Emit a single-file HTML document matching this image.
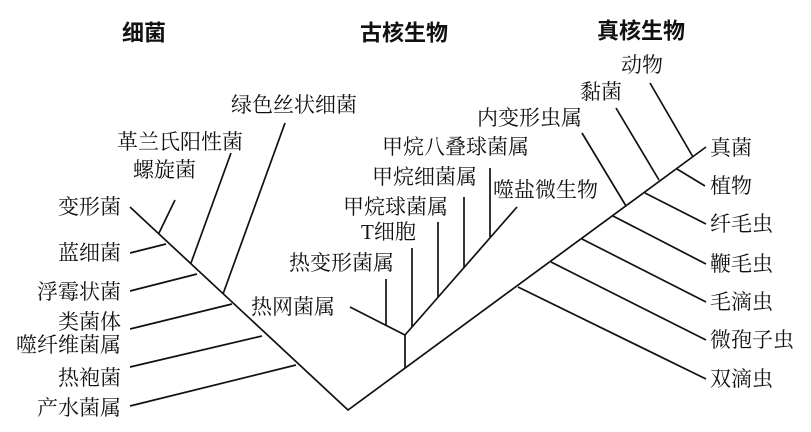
<!DOCTYPE html>
<html><head><meta charset="utf-8"><style>
html,body{margin:0;padding:0;background:#fff;}
svg{display:block;}
text{font-family:"Liberation Serif","Noto Serif CJK SC","Noto Sans CJK SC",serif;font-size:21px;fill:#111;dominant-baseline:central;}
.t{font-family:"Liberation Sans","Noto Sans CJK SC",sans-serif;font-size:22px;font-weight:bold;}
.e{text-anchor:end;}
</style></head><body>
<svg width="811" height="432" viewBox="0 0 811 432" xmlns="http://www.w3.org/2000/svg">
<g stroke="#111" stroke-width="1.7" fill="none">
<polyline points="130,207 348,410 706,147"/>
<line x1="175" y1="200" x2="159" y2="233"/>
<line x1="130" y1="253" x2="166" y2="244"/>
<line x1="231" y1="153" x2="191" y2="263"/>
<line x1="130" y1="291" x2="197" y2="274"/>
<line x1="285" y1="123" x2="223" y2="294"/>
<line x1="130" y1="329" x2="232" y2="304"/>
<line x1="130" y1="367" x2="262" y2="336"/>
<line x1="130" y1="406" x2="296" y2="365"/>
<line x1="405" y1="368" x2="405" y2="335"/>
<line x1="405" y1="335" x2="517" y2="207"/>
<line x1="405" y1="335" x2="350" y2="307"/>
<line x1="386" y1="279" x2="386" y2="325"/>
<line x1="412" y1="248" x2="412" y2="327"/>
<line x1="438" y1="222" x2="438" y2="297"/>
<line x1="464" y1="197" x2="464" y2="267"/>
<line x1="490" y1="168" x2="490" y2="237"/>
<line x1="650" y1="83" x2="693" y2="157"/>
<line x1="705" y1="186" x2="677" y2="169"/>
<line x1="616" y1="108" x2="659" y2="180"/>
<line x1="706" y1="224" x2="645" y2="193"/>
<line x1="582" y1="133" x2="626" y2="206"/>
<line x1="706" y1="264" x2="613" y2="216"/>
<line x1="706" y1="302" x2="582" y2="239"/>
<line x1="706" y1="340" x2="551" y2="262"/>
<line x1="706" y1="379" x2="518" y2="287"/>
</g>
<text class="t" x="122" y="33">细菌</text>
<text class="t" x="360" y="33">古核生物</text>
<text class="t" x="597" y="31">真核生物</text>
<text class="e" x="121" y="207">变形菌</text>
<text class="e" x="121" y="253">蓝细菌</text>
<text class="e" x="121" y="292">浮霉状菌</text>
<text class="e" x="121" y="322">类菌体</text>
<text class="e" x="121" y="345">噬纤维菌属</text>
<text class="e" x="121" y="378">热袍菌</text>
<text class="e" x="121" y="408">产水菌属</text>
<text x="133" y="170">螺旋菌</text>
<text x="117" y="142">革兰氏阳性菌</text>
<text x="231" y="105">绿色丝状细菌</text>
<text x="251" y="307">热网菌属</text>
<text x="289" y="263">热变形菌属</text>
<text x="361" y="232">T细胞</text>
<text x="343" y="207">甲烷球菌属</text>
<text x="372" y="177">甲烷细菌属</text>
<text x="382" y="147">甲烷八叠球菌属</text>
<text x="493" y="190">噬盐微生物</text>
<text x="477" y="118">内变形虫属</text>
<text x="580" y="92">黏菌</text>
<text x="621" y="65">动物</text>
<text x="710" y="148">真菌</text>
<text x="710" y="186">植物</text>
<text x="710" y="224">纤毛虫</text>
<text x="710" y="264">鞭毛虫</text>
<text x="710" y="302">毛滴虫</text>
<text x="710" y="340">微孢子虫</text>
<text x="710" y="379">双滴虫</text>
</svg>
</body></html>
